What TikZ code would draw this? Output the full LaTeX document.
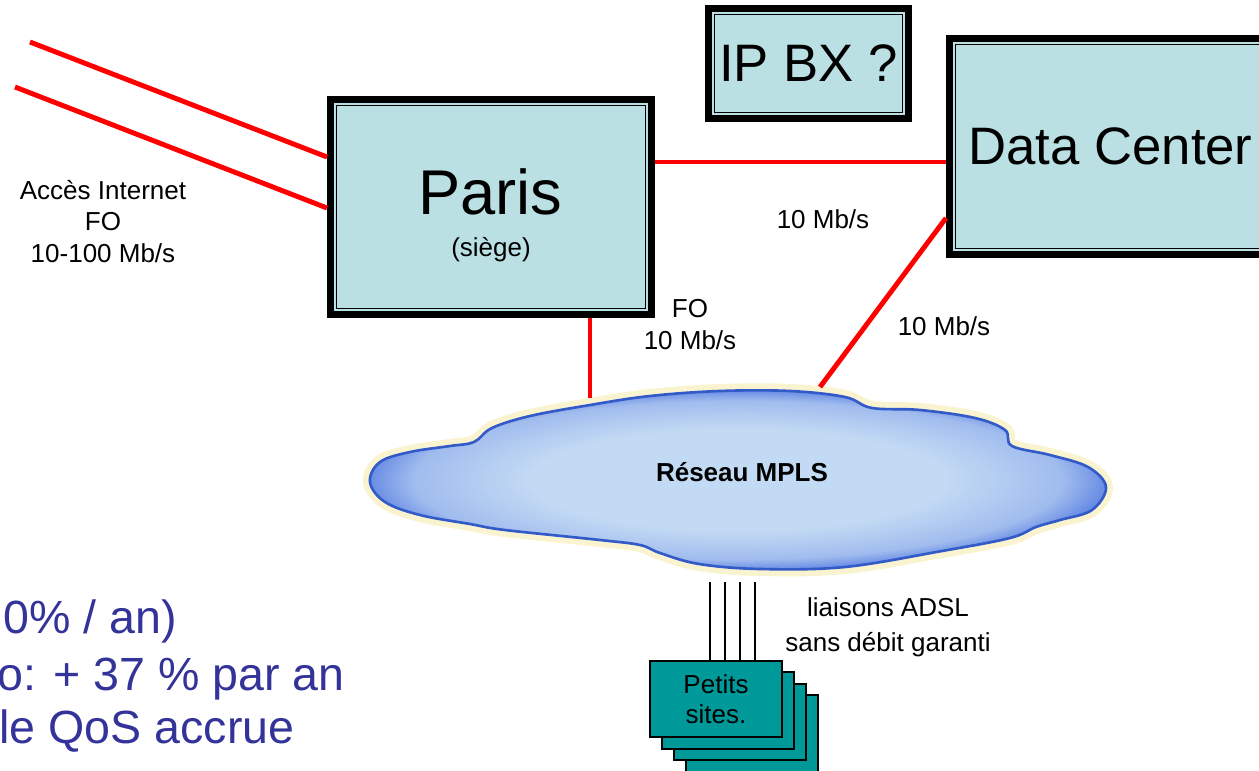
\documentclass[tikz,border=0pt]{standalone}
\usepackage{fontspec}
\setmainfont{Liberation Sans}
\definecolor{boxblue}{RGB}{187,224,227}
\definecolor{sitegreen}{RGB}{0,153,153}
\definecolor{textblue}{RGB}{51,51,153}
\definecolor{cloudin}{RGB}{195,218,244}
\definecolor{cloudmid}{RGB}{160,188,238}
\definecolor{cloudout}{RGB}{105,140,228}
\definecolor{cloudedge}{RGB}{50,90,200}
\definecolor{glow}{RGB}{250,243,208}
\pgfdeclareradialshading{mplsshade}{\pgfpoint{0bp}{0bp}}{color(0bp)=(cloudin); color(14bp)=(cloudin); color(22bp)=(cloudmid); color(25bp)=(cloudout); color(50bp)=(cloudout)}
\begin{document}
\begin{tikzpicture}[x=0.02cm, y=-0.02cm,
                        site/.style={draw, line width=4pt, fill=boxblue, inner sep=0pt},
                        liner/.style={line width=0.85pt},
                        link/.style={draw=red, line width=2.8pt},
                        lbl/.style={font=\fontsize{14.8}{17.9}\selectfont, align=center},
                        big/.style={font=\fontsize{30}{36}\selectfont},
                        huge/.style={font=\fontsize{36}{42}\selectfont},
                        petit/.style={draw, line width=0.9pt, fill=sitegreen, minimum width=2.65cm, minimum height=1.53cm, align=center, font=\fontsize{14.8}{17}\selectfont},
                        adsl/.style={line width=0.6pt},
                        note/.style={text=textblue, font=\fontsize{26.5}{32}\selectfont, anchor=base west, inner sep=0pt},
                        ]
                        \useasboundingbox (0,0) rectangle (1259,771);
                        %Wolke MPLS
                        \path[shade, shading=mplsshade, draw=cloudedge, line width=1.5pt, preaction={draw=glow, line width=8pt}]
                        plot[smooth cycle, tension=0.6] coordinates {(370,482) (380,462) (410,452) (450,446) (474,442) (492,428) (530,416) (590,405) (650,396) (720,391) (790,391) (845,397) (872,408) (920,410) (975,418) (1005,430) (1012,446) (1050,455) (1088,467) (1106,487) (1092,510) (1060,520) (1036,527) (1010,538) (942,551) (845,567) (760,569) (699,564) (660,553) (640,545) (600,540) (505,530) (470,524) (420,515) (385,502)};
                        \node[font=\bfseries\fontsize{14.8}{18}\selectfont] (mpls) at (742,472) {Réseau MPLS};
                        %Kaesten
                        \node[site, minimum width=6.42cm, minimum height=4.30cm] (paris) at (491,207) {};
                        \node[site, minimum width=4.0cm, minimum height=2.2cm, big] (ipbx) at (808.5,63.5) {IP BX ?};
                        \node[site, minimum width=6.44cm, minimum height=4.32cm, big] (dc) at (1110.5,146.5) {Data Center};
                        \foreach \b in {paris, ipbx, dc}
                        \draw[liner] ([shift={(5.5pt,-5.5pt)}]\b.north west) rectangle ([shift={(-5.5pt,5.5pt)}]\b.south east);
                        \node[huge] (paristxt) at (490.5,192) {Paris};
                        \node[lbl] (siege) at (491,250) {(siège)};
                        %Verbindungen
                        \coordinate (i1) at (30,42);
                        \coordinate (i2) at (15,87);
                        \coordinate (m1) at (590,398);
                        \coordinate (m2) at (820,387);
                        \draw[link] (i1) -- (paris.west |- 0,157);
                        \draw[link] (i2) -- (paris.west |- 0,208);
                        \draw[link] (paris.east |- 0,162) -- (dc.west |- 0,162);
                        \draw[link] (paris.south -| m1) -- (m1);
                        \draw[link] (dc.west |- 0,218) -- (m2);
                        %Petits sites
                        \foreach \i in {3,2,1}
                        \node[petit] (s\i) at ({716+12*\i},{699+11.5*\i}) {};
                        \node[petit] (s0) at (716,699) {Petits\\sites.};
                        \foreach \x in {710,725,740,755}
                        \draw[adsl] (\x,582) -- (s0.north -| \x,582);
                        %Beschriftung
                        \node[lbl] (inet) at (103,221.5) {Accès Internet\\FO\\10-100 Mb/s};
                        \node[lbl] (l1) at (823,219) {10 Mb/s};
                        \node[lbl] (l2) at (690,324.5) {FO\\10 Mb/s};
                        \node[lbl] (l3) at (944,326) {10 Mb/s};
                        \node[lbl, font=\fontsize{14.8}{20}\selectfont] (l4) at (888,627.5) {liaisons ADSL\\sans débit garanti};
                        \node[note] (n1) at (3,633) {0\% / an)};
                        \node[note] (n2) at (-3,690) {o: + 37 \% par an};
                        \node[note] (n3) at (-1,743) {le QoS accrue};
\end{tikzpicture}
\end{document}
